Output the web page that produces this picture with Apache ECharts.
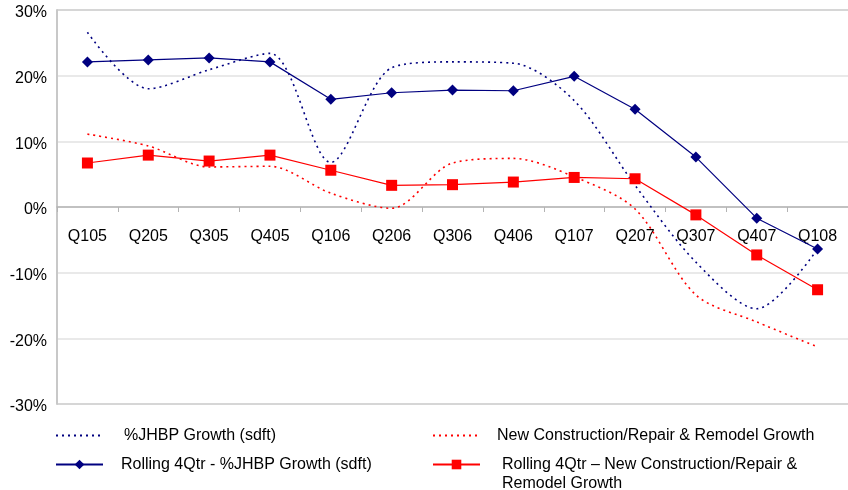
<!DOCTYPE html>
<html>
<head>
<meta charset="utf-8">
<script src="https://cdn.jsdelivr.net/npm/echarts@6/dist/echarts.min.js"></script>
<style>
  html, body { margin: 0; padding: 0; background: #fff; }
  #chart { width: 848px; height: 490px; }
</style>
</head>
<body>
<div id="chart"></div>
<script>
const quarters = ['Q105', 'Q205', 'Q305', 'Q405', 'Q106', 'Q206', 'Q306', 'Q406', 'Q107', 'Q207', 'Q307', 'Q407', 'Q108'];

const jhbpGrowth = [26.6, 18.0, 20.9, 23.4, 6.8, 21.2, 22.1, 21.9, 16.2, 3.3, -8.4, -15.5, -6.4];
const rollingJhbp = [22.1, 22.4, 22.7, 22.1, 16.4, 17.4, 17.8, 17.7, 19.9, 14.9, 7.6, -1.7, -6.4];
const constructionGrowth = [11.1, 9.3, 6.1, 6.2, 2.1, -0.2, 6.7, 7.4, 4.6, -0.3, -13.4, -17.5, -21.3];
const rollingConstruction = [6.7, 7.9, 7.0, 7.9, 5.6, 3.3, 3.4, 3.8, 4.5, 4.3, -1.2, -7.3, -12.6];

const names = [
  '%JHBP Growth (sdft)',
  'Rolling 4Qtr - %JHBP Growth (sdft)',
  'New Construction/Repair & Remodel Growth',
  'Rolling 4Qtr \u2013 New Construction/Repair & Remodel Growth'
];

const navy = '#000080';
const red = '#ff0000';
const font = '"Liberation Sans", Arial, sans-serif';

const chart = echarts.init(document.getElementById('chart'));

// one legend box per item, laid out like the original two-column legend
function legendBox(name, left, top, gap, extra) {
  return Object.assign({
    data: [name],
    left: left,
    top: top,
    padding: 0,
    itemWidth: 47,
    itemHeight: 12,
    selectedMode: false,
    textStyle: {
      fontFamily: font,
      fontSize: 16,
      color: '#000',
      lineHeight: 19,
      padding: [0, 0, 0, gap]
    }
  }, extra || {});
}

const options = {
  animation: false,
  textStyle: { fontFamily: font },
  grid: { left: 57, right: 0, top: 10, bottom: 86 },
  xAxis: {
    type: 'category',
    data: quarters,
    boundaryGap: true,
    // sit the axis on the 0% line, labels included
    offset: -197,
    axisLine: { onZero: false, lineStyle: { color: '#b4b4b4', width: 1.5 } },
    axisTick: { show: true, length: 5, lineStyle: { color: '#b4b4b4' } },
    axisLabel: { fontSize: 16, color: '#000', margin: 22, fontFamily: font },
    splitLine: { show: false }
  },
  yAxis: {
    type: 'value',
    min: -30,
    max: 30,
    interval: 10,
    axisLine: { show: true, lineStyle: { color: '#c8c8c8', width: 2 } },
    axisTick: { show: false },
    axisLabel: {
      margin: 10,
      formatter: '{v|{value}%}',
      rich: {
        v: { fontSize: 16, color: '#000', fontFamily: font, padding: [6, 0, 0, 0] }
      }
    },
    splitLine: {
      lineStyle: {
        color: ['#c8c8c8', '#e2e2e2', '#e2e2e2', '#e2e2e2', '#e2e2e2', '#e2e2e2', '#c8c8c8'],
        width: 1.5
      }
    }
  },
  legend: [
    legendBox(names[0], 55, 426, 16, { itemStyle: { opacity: 0 } }),
    legendBox(names[1], 55, 455, 13),
    legendBox(names[2], 432, 426, 12, { itemStyle: { opacity: 0 } }),
    legendBox(names[3], 432, 436, 17, {
      // empty first line keeps the icon level with the first text line
      formatter: () => '\nRolling 4Qtr \u2013 New Construction/Repair &\nRemodel Growth'
    })
  ],
  series: [
    {
      name: names[0],
      type: 'line',
      data: jhbpGrowth,
      smooth: 0.3,
      symbol: 'none',
      lineStyle: { color: navy, width: 1.6, type: [2, 4] },
      itemStyle: { color: navy },
      z: 2
    },
    {
      name: names[2],
      type: 'line',
      data: constructionGrowth,
      smooth: 0.3,
      symbol: 'none',
      lineStyle: { color: red, width: 1.6, type: [2, 4] },
      itemStyle: { color: red },
      z: 2
    },
    {
      name: names[1],
      type: 'line',
      data: rollingJhbp,
      symbol: 'diamond',
      symbolSize: 11,
      lineStyle: { color: navy, width: 1.2 },
      itemStyle: { color: navy },
      z: 3
    },
    {
      name: names[3],
      type: 'line',
      data: rollingConstruction,
      symbol: 'rect',
      symbolSize: 11,
      lineStyle: { color: red, width: 1.2 },
      itemStyle: { color: red },
      z: 3
    }
  ]
};

chart.setOption(options);
</script>
</body>
</html>
